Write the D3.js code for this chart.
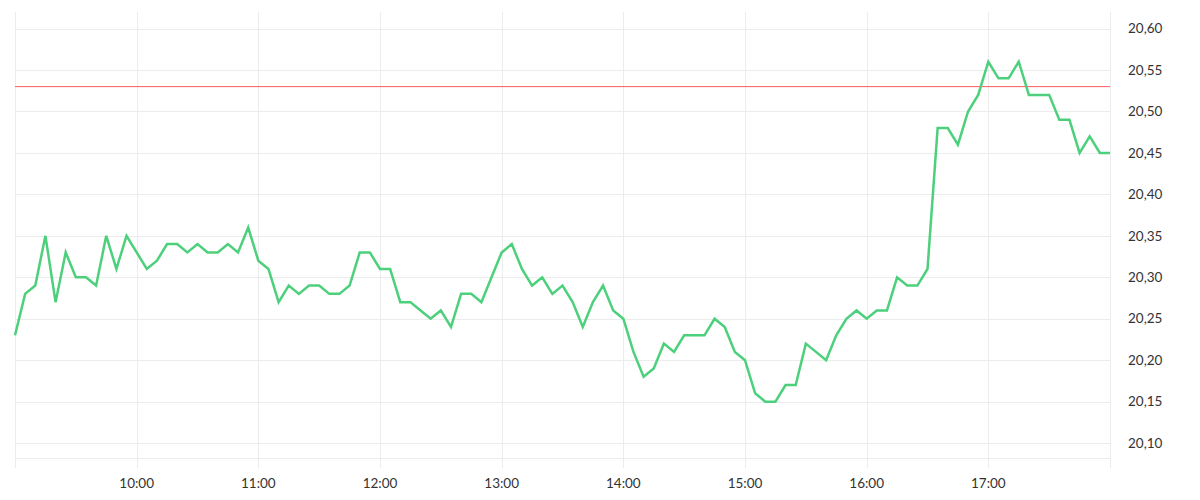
<!DOCTYPE html>
<html><head><meta charset="utf-8">
<script src="https://cdn.jsdelivr.net/npm/d3@7"></script>
<style>
html,body{margin:0;padding:0;background:#fff;}
svg{display:block;}
text{font-family:Lato,"Open Sans",sans-serif;}
</style></head>
<body><svg id="chart" width="1200" height="500"></svg>
<script>
const startTime = "09:00";
const endTime = "18:00";
const stepMinutes = 5;
const prices = [20.23,20.28,20.29,20.35,20.27,20.33,20.30,20.30,20.29,20.35,
20.31,20.35,20.33,20.31,20.32,20.34,20.34,20.33,20.34,20.33,
20.33,20.34,20.33,20.36,20.32,20.31,20.27,20.29,20.28,20.29,
20.29,20.28,20.28,20.29,20.33,20.33,20.31,20.31,20.27,20.27,
20.26,20.25,20.26,20.24,20.28,20.28,20.27,20.30,20.33,20.34,
20.31,20.29,20.30,20.28,20.29,20.27,20.24,20.27,20.29,20.26,
20.25,20.21,20.18,20.19,20.22,20.21,20.23,20.23,20.23,20.25,
20.24,20.21,20.20,20.16,20.15,20.15,20.17,20.17,20.22,20.21,
20.20,20.23,20.25,20.26,20.25,20.26,20.26,20.30,20.29,20.29,
20.31,20.48,20.48,20.46,20.50,20.52,20.56,20.54,20.54,20.56,
20.52,20.52,20.52,20.49,20.49,20.45,20.47,20.45,20.45];
const referencePrice = 20.53;
const yTicks = [20.10,20.15,20.20,20.25,20.30,20.35,20.40,20.45,20.50,20.55,20.60];
const xTickLabels = ["10:00","11:00","12:00","13:00","14:00","15:00","16:00","17:00"];
const yDomain = [20.082, 20.62];

const parse = d3.timeParse("%H:%M");
const t0 = parse(startTime), t1 = parse(endTime);
const data = prices.map((v,i)=>({t:new Date(t0.getTime()+i*stepMinutes*60000), v}));

const svg = d3.select("#chart");
const L=15, R=1110, T=12, B=458;
const x = d3.scaleTime().domain([t0,t1]).range([L,R]);
const y = d3.scaleLinear().domain(yDomain).range([B,T]);
const grid = "#ececec";

// vertical gridlines (hours incl. edges)
const hourTicks = d3.timeHour.range(t0, new Date(t1.getTime()+1));
svg.append("g").selectAll("line").data(hourTicks).join("line")
  .attr("x1",d=>Math.round(x(d))+0.5).attr("x2",d=>Math.round(x(d))+0.5)
  .attr("y1",T).attr("y2",468).attr("stroke",grid).attr("stroke-width",1);

// horizontal gridlines
svg.append("g").selectAll("line").data(yTicks).join("line")
  .attr("x1",L).attr("x2",R)
  .attr("y1",d=>Math.round(y(d))+0.5).attr("y2",d=>Math.round(y(d))+0.5)
  .attr("stroke",grid).attr("stroke-width",1);
svg.append("line").attr("x1",L).attr("x2",R).attr("y1",B+0.5).attr("y2",B+0.5)
  .attr("stroke",grid).attr("stroke-width",1);

// y labels
const fmt = d => d.toFixed(2).replace(".",",");
svg.append("g").selectAll("text").data(yTicks).join("text")
  .attr("x",1128).attr("y",d=>y(d)).attr("dy","0.35em")
  .attr("font-size",13.5).attr("fill","#333").text(fmt);

// x labels
const xTicks = xTickLabels.map(s=>parse(s));
svg.append("g").selectAll("text").data(xTicks).join("text")
  .attr("x",d=>x(d)).attr("y",483).attr("dy","0.35em").attr("text-anchor","middle")
  .attr("font-size",13.5).attr("fill","#333").text((d,i)=>xTickLabels[i]);

// reference line
svg.append("line").attr("x1",L).attr("x2",R)
  .attr("y1",y(referencePrice)).attr("y2",y(referencePrice))
  .attr("stroke","#ff5a5f").attr("stroke-width",1);

// price line
svg.append("path").datum(data)
  .attr("fill","none").attr("stroke","#4cd07b").attr("stroke-width",2.5)
  .attr("stroke-linejoin","miter")
  .attr("d", d3.line().x(d=>x(d.t)).y(d=>y(d.v)));
</script></body></html>
